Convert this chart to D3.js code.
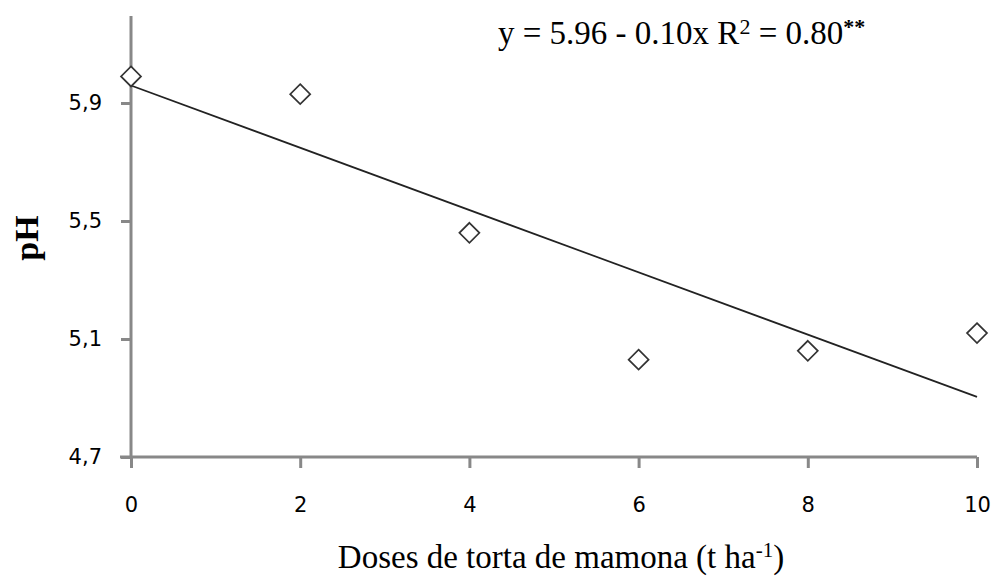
<!DOCTYPE html>
<html>
<head>
<meta charset="utf-8">
<script src="https://cdn.jsdelivr.net/npm/d3@7"></script>
<style>
  body { margin: 0; background: #fff; }
  svg { display: block; }
</style>
</head>
<body>
<div id="chart"></div>
<script>
const doses = [0, 2, 4, 6, 8, 10]
const phValues = [5.99, 5.93, 5.46, 5.03, 5.06, 5.12]
const xTicks = [0, 2, 4, 6, 8, 10]
const yTicks = [4.7, 5.1, 5.5, 5.9]

const WIDTH = 992
const HEIGHT = 578
const MARGIN = { top: 16, right: 15, bottom: 121, left: 131 }

const svg = d3.select('#chart')
  .append('svg')
  .attr('width', WIDTH)
  .attr('height', HEIGHT)

const x = d3.scaleLinear()
  .domain([0, 10])
  .range([MARGIN.left, WIDTH - MARGIN.right])

const y = d3.scaleLinear()
  .domain([4.7, 6.195])
  .range([HEIGHT - MARGIN.bottom, MARGIN.top])

const axisColor = '#888'
const fmt = d => d3.format('.1f')(d).replace('.', ',')

// axes
const xAxis = svg.append('g')
  .attr('transform', `translate(0,${y(4.7)})`)
  .call(d3.axisBottom(x).tickValues(xTicks).tickSize(11).tickPadding(29).tickFormat(d3.format('d')))

const yAxis = svg.append('g')
  .attr('transform', `translate(${x(0)},0)`)
  .call(d3.axisLeft(y).tickValues(yTicks).tickSize(10).tickPadding(19).tickFormat(fmt))

svg.selectAll('.domain')
  .attr('stroke', axisColor)
  .attr('stroke-width', 3)
svg.selectAll('.tick line')
  .attr('stroke', axisColor)
  .attr('stroke-width', 3)
svg.selectAll('.tick text')
  .attr('fill', '#000')
  .style('font-family', 'DejaVu Sans, Verdana, sans-serif')
  .style('font-size', '21px')

// y axis domain without outer tick, extend to the top
yAxis.select('.domain')
  .attr('d', `M0,${y.range()[0] + 1.5}V${y.range()[1]}`)
xAxis.select('.domain')
  .attr('d', `M${x.range()[0] - 11},0H${x.range()[1]}`)

// trend line (least squares through the points)
const mx = d3.mean(doses)
const my = d3.mean(phValues)
const slope = d3.sum(doses, (d, i) => (d - mx) * (phValues[i] - my)) / d3.sum(doses, d => (d - mx) ** 2)
const intercept = my - slope * mx

svg.append('line')
  .attr('x1', x(0))
  .attr('y1', y(intercept))
  .attr('x2', x(10))
  .attr('y2', y(intercept + slope * 10))
  .attr('stroke', '#222')
  .attr('stroke-width', 1.7)

// markers
svg.selectAll('path.marker')
  .data(doses)
  .enter()
  .append('path')
  .classed('marker', true)
  .attr('d', 'M0,-10L10,0L0,10L-10,0Z')
  .attr('transform', (d, i) => `translate(${x(d)},${y(phValues[i])})`)
  .attr('fill', '#fff')
  .attr('stroke', '#333')
  .attr('stroke-width', 1.7)

// equation
const eq = svg.append('text')
  .attr('x', 498)
  .attr('y', 44)
  .style('font-family', 'Liberation Serif, Times New Roman, serif')
  .style('font-size', '33px')
  .attr('fill', '#000')
eq.append('tspan').text('y = 5.96 - 0.10x R')
eq.append('tspan').attr('dy', -10).style('font-size', '22px').text('2')
eq.append('tspan').attr('dy', 10).text(' = 0.80')
eq.append('tspan').attr('dy', -10).style('font-size', '22px').style('font-weight', 'bold').text('**')

// axis titles
const xt = svg.append('text')
  .attr('x', 561)
  .attr('y', 568)
  .attr('text-anchor', 'middle')
  .style('font-family', 'Liberation Serif, Times New Roman, serif')
  .style('font-size', '33px')
  .attr('fill', '#000')
xt.append('tspan').text('Doses de torta de mamona (t ha')
xt.append('tspan').attr('dy', -11).style('font-size', '21px').text('-1')
xt.append('tspan').attr('dy', 11).text(')')

svg.append('text')
  .attr('transform', 'translate(38,238) rotate(-90)')
  .attr('text-anchor', 'middle')
  .style('font-family', 'Liberation Serif, Times New Roman, serif')
  .style('font-size', '34px')
  .style('font-weight', 'bold')
  .attr('fill', '#000')
  .text('pH')
</script>
</body>
</html>
